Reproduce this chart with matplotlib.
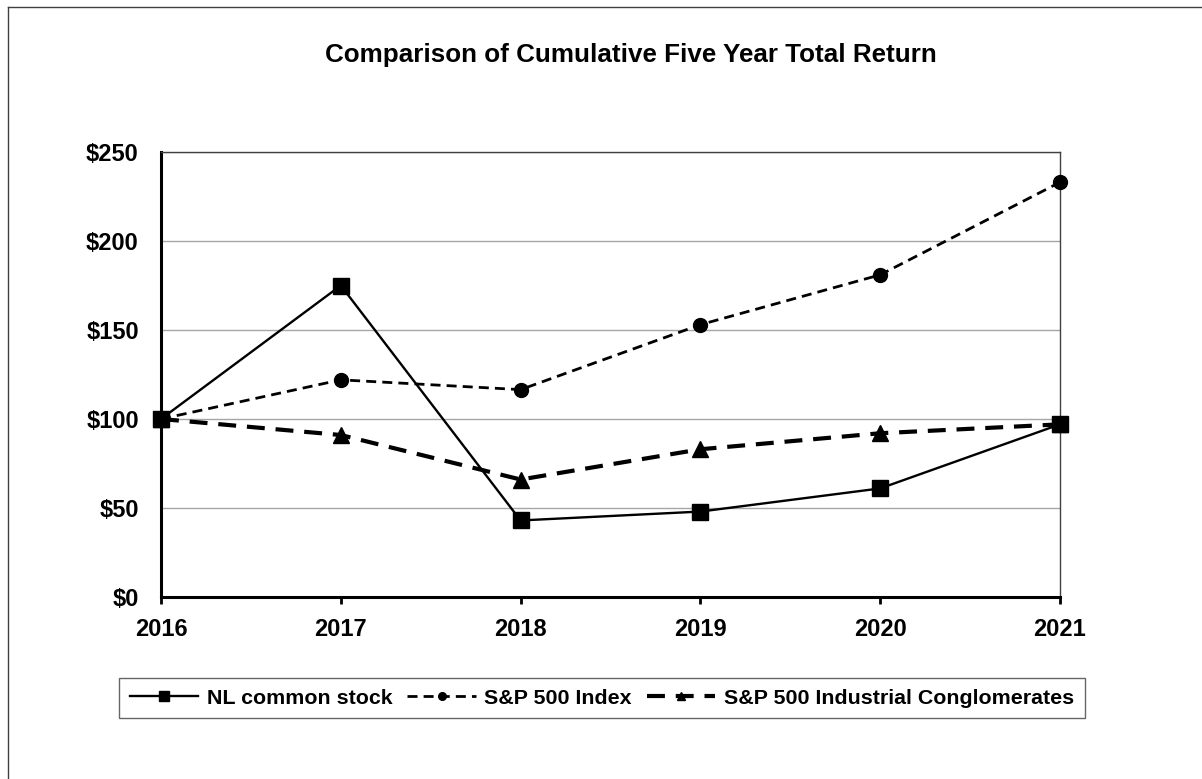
import matplotlib.pyplot as plt
from matplotlib.lines import Line2D

# Cumulative five year total return, $100 invested at end of 2016

years = [2016, 2017, 2018, 2019, 2020, 2021]
nl_stock = [100, 175, 43, 48, 61, 97]
sp500 = [100, 122, 116.5, 153, 181, 233]
sp500_conglom = [100, 91, 66, 83, 92, 97]

series_names = ["NL common stock", "S&P 500 Index",
                "S&P 500 Industrial Conglomerates"]
y_ticks = [0, 50, 100, 150, 200, 250]
y_tick_labels = ["$0", "$50", "$100", "$150", "$200", "$250"]

plt.rcParams['font.family'] = ['Liberation Sans', 'DejaVu Sans']
plt.rcParams['font.weight'] = 'bold'

W, H = 1202, 779
fig = plt.figure(figsize=(W/100, H/100), dpi=100)
fig.patch.set_facecolor('white')

# outer chart-area border (only top and left edges visible in the picture)
fig.add_artist(Line2D([8/W, 8/W], [0, 1 - 7/H], color='#404040', lw=1.0,
                      transform=fig.transFigure))
fig.add_artist(Line2D([8/W, 1], [1 - 7/H, 1 - 7/H], color='#404040', lw=1.0,
                      transform=fig.transFigure))

ax = fig.add_axes([161/W, 1 - 597/H, (1060 - 161)/W, (597 - 152)/H])

ax.plot(years, nl_stock, color='black', lw=1.7, ls='-',
        marker='s', markersize=12, label=series_names[0], zorder=4,
        clip_on=False)
ax.plot(years, sp500, color='black', lw=2.0, ls=(0, (3.6, 2.2)),
        marker='o', markersize=10, label=series_names[1], zorder=3,
        clip_on=False)
ax.plot(years, sp500_conglom, color='black', lw=3.0, ls=(0, (4.3, 2.6)),
        marker='^', markersize=11, label=series_names[2], zorder=3,
        clip_on=False)

ax.set_xlim(years[0], years[-1])
ax.set_ylim(y_ticks[0], y_ticks[-1])
ax.set_xticks(years)
ax.set_xticklabels([str(y) for y in years], fontsize=17, fontweight='bold')
ax.set_yticks(y_ticks)
ax.set_yticklabels(y_tick_labels, fontsize=17, fontweight='bold')

ax.tick_params(axis='y', length=0, pad=16)
ax.tick_params(axis='x', direction='out', length=5, width=2, pad=10)

ax.yaxis.grid(True, color='#a6a6a6', lw=1.0)
ax.set_axisbelow(True)

for side in ['left', 'bottom']:
    ax.spines[side].set_linewidth(2.2)
    ax.spines[side].set_color('black')
for side in ['top', 'right']:
    ax.spines[side].set_linewidth(1.0)
    ax.spines[side].set_color('#404040')

fig.text(631/W, 1 - 55/H, "Comparison of Cumulative Five Year Total Return",
         ha='center', va='center', fontsize=18.7, fontweight='bold')

leg = fig.legend(loc='center', bbox_to_anchor=(602/W, 1 - 698/H),
                 ncol=3, fontsize=15.4, frameon=True, fancybox=False,
                 edgecolor='#404040', handlelength=3.2, handletextpad=0.4,
                 columnspacing=0.7, markerscale=0.55, borderpad=0.5)
leg.get_frame().set_linewidth(1.0)
for t in leg.get_texts():
    t.set_fontweight('bold')

fig.savefig('out.png', dpi=100)
